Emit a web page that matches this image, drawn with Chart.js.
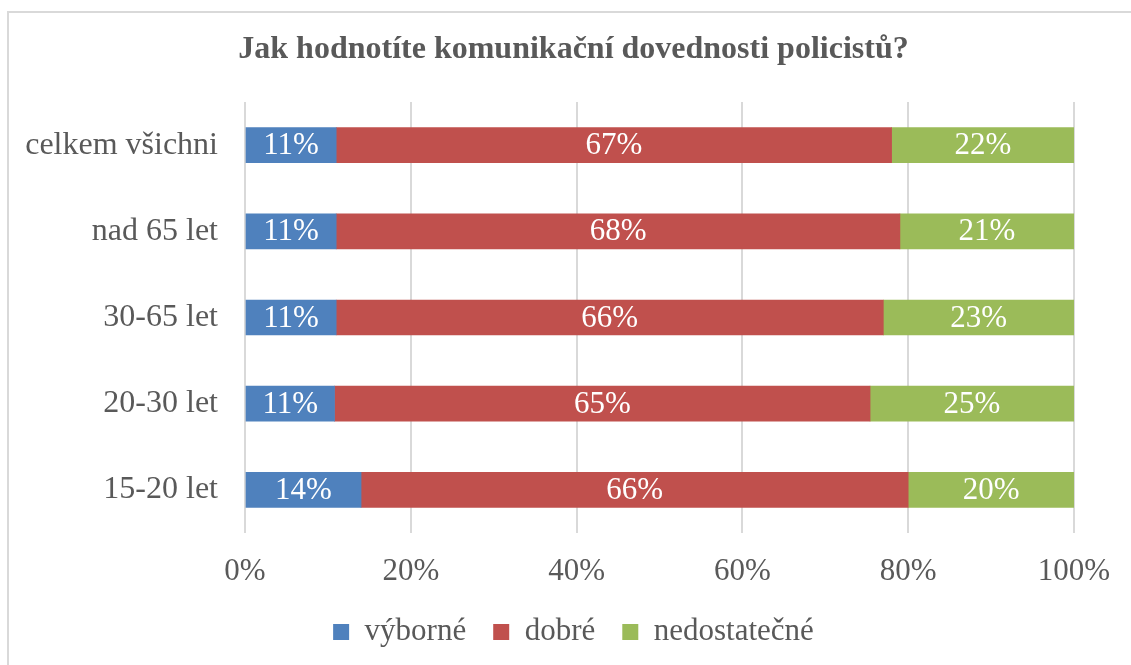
<!DOCTYPE html>
<html>
<head>
<meta charset="utf-8">
<script src="https://cdn.jsdelivr.net/npm/chart.js@4/dist/chart.umd.min.js"></script>
<style>
  html, body { margin: 0; padding: 0; background: #fff; overflow: hidden; }
  #wrap { position: relative; width: 1131px; height: 665px; }
  #frame { position: absolute; left: 7px; top: 11px; width: 1200px; height: 700px;
           border-left: 2px solid #d9d9d9; border-top: 2px solid #d9d9d9; }
  canvas { position: absolute; left: 0; top: 0; }
</style>
</head>
<body>
<div id="wrap">
  <div id="frame"></div>
  <canvas id="chart" width="1131" height="665"></canvas>
</div>
<script>
// data
const categories = ['celkem všichni', 'nad 65 let', '30-65 let', '20-30 let', '15-20 let'];
const vyborne = [11, 11, 11, 10.8, 14];
const dobre = [67, 68, 66, 64.6, 66];
const nedostatecne = [22, 21, 23, 24.6, 20];
const xTicks = [0, 20, 40, 60, 80, 100];

const FONT = 'Liberation Serif';
const GREY = '#595959';

// white % labels centred in each segment
const barLabels = {
    id: 'barLabels',
    afterDatasetsDraw(chart) {
        const ctx = chart.ctx;
        ctx.save();
        ctx.font = '31px "' + FONT + '"';
        ctx.fillStyle = '#ffffff';
        ctx.textAlign = 'center';
        ctx.textBaseline = 'middle';
        chart.data.datasets.forEach((ds, i) => {
            chart.getDatasetMeta(i).data.forEach((bar, j) => {
                const x = (bar.x + bar.base) / 2;
                ctx.fillText(Math.round(ds.data[j]) + '%', x, bar.y + 1);
            });
        });
        ctx.restore();
    }
};

new Chart(document.getElementById('chart'), {
    type: 'bar',
    data: {
        labels: categories,
        datasets: [
            { label: 'výborné', data: vyborne, backgroundColor: '#4f81bd' },
            { label: 'dobré', data: dobre, backgroundColor: '#c0504d' },
            { label: 'nedostatečné', data: nedostatecne, backgroundColor: '#9bbb59' }
        ]
    },
    options: {
        indexAxis: 'y',
        responsive: false,
        animation: false,
        barThickness: 35,
        layout: { padding: { left: 16, right: 0, top: 0, bottom: 7.5 } },
        plugins: {
            title: {
                display: true,
                text: 'Jak hodnotíte komunikační dovednosti policistů?',
                color: GREY,
                font: { family: FONT, size: 32, weight: 'bold' },
                padding: { top: 30.8, bottom: 32.8 }
            },
            legend: {
                position: 'bottom',
                labels: {
                    color: GREY,
                    font: { family: FONT, size: 31 },
                    boxWidth: 16,
                    boxHeight: 16,
                    padding: 27
                }
            },
            tooltip: { enabled: false }
        },
        scales: {
            x: {
                stacked: true,
                min: 0,
                max: 100,
                afterBuildTicks: axis => { axis.ticks = xTicks.map(v => ({ value: v })); },
                afterFit: axis => { axis.height = 56.5; axis.paddingRight = 57; },
                ticks: {
                    color: GREY,
                    font: { family: FONT, size: 31 },
                    padding: 20.4,
                    callback: v => v + '%'
                },
                grid: { color: '#d9d9d9', lineWidth: 2, drawTicks: false },
                border: { display: false }
            },
            y: {
                stacked: true,
                afterFit: axis => { axis.width = 229; },
                ticks: {
                    color: GREY,
                    font: { family: FONT, size: 32 },
                    padding: 27
                },
                grid: { display: false, drawTicks: false },
                border: { display: false }
            }
        }
    },
    plugins: [barLabels]
});
</script>
</body>
</html>
